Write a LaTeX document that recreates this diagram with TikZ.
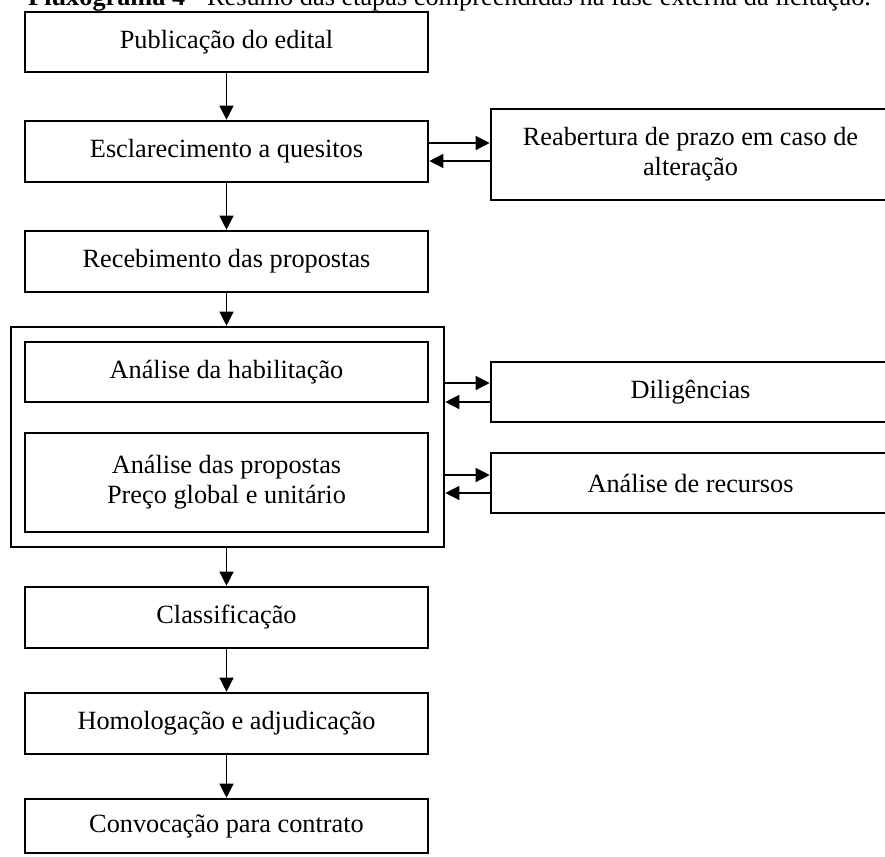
\documentclass[tikz,border=0pt]{standalone}
\usepackage{fontspec}
\setmainfont{Liberation Serif}
\usetikzlibrary{arrows.meta,calc}
\begin{document}
\begin{tikzpicture}[x=1pt,y=-1pt,
  boxtext/.style={font=\fontsize{26.3}{30}\selectfont},
  stepbox/.style={draw, line width=2.6pt, boxtext, align=center, inner sep=0pt},
  arr/.style={line width=1.3pt, -{Triangle[length=14pt,width=14pt]}}
]
\useasboundingbox (0,0) rectangle (885,856);
\clip (0,0) rectangle (885,856);

% title
\node[anchor=base west, inner sep=0pt, boxtext] (title) at (28,6)
  {\textbf{Fluxograma 4} - Resumo das etapas compreendidas na fase externa da licitação.};

% left column
\node[stepbox, minimum width=403pt, minimum height=60pt] (b1) at (226.5,42) {Publicação do edital};
\node[stepbox, minimum width=403pt, minimum height=61pt] (b2) at (226.5,151.5) {Esclarecimento a quesitos};
\node[stepbox, minimum width=403pt, minimum height=61pt] (b3) at (226.5,261.5) {Recebimento das propostas};
\node[draw, line width=2.6pt, minimum width=433pt, minimum height=220pt, inner sep=0pt] (outer) at (227.5,437) {};
\node[stepbox, minimum width=403pt, minimum height=60pt] (i1) at (226.5,372) {Análise da habilitação};
\node[stepbox, minimum width=403pt, minimum height=99pt] (i2) at (226.5,482.5) {Análise das propostas\\Preço global e unitário};
\node[stepbox, minimum width=403pt, minimum height=61pt] (b4) at (226.5,617.5) {Classificação};
\node[stepbox, minimum width=403pt, minimum height=61pt] (b5) at (226.5,723.5) {Homologação e adjudicação};
\node[stepbox, minimum width=403pt, minimum height=54pt] (b6) at (226.5,826) {Convocação para contrato};

% right column
\node[stepbox, minimum width=399pt, minimum height=91pt] (reab) at (690.5,154.5) {Reabertura de prazo em caso de\\alteração};
\node[stepbox, minimum width=399pt, minimum height=60pt] (dil) at (690.5,392) {Diligências};
\node[stepbox, minimum width=399pt, minimum height=60pt] (rec) at (690.5,483) {Análise de recursos};

% vertical arrows
\draw[arr] (b1.south) -- (b2.north);
\draw[arr] (b2.south) -- (b3.north);
\draw[arr] (b3.south) -- (b3.south |- outer.north);
\draw[arr] (b4.north |- outer.south) -- (b4.north);
\draw[arr] (b4.south) -- (b5.north);
\draw[arr] (b5.south) -- (b6.north);

% horizontal arrows
\coordinate (r1) at ($(b2.east)+(0,-8.5)$);
\coordinate (r2) at ($(b2.east)+(0,9.5)$);
\draw[arr] (r1) -- (r1 -| reab.west);
\draw[arr] (r2 -| reab.west) -- (r2);

\coordinate (d1) at ($(outer.east)+(0,-54)$);
\coordinate (d2) at ($(outer.east)+(0,-35)$);
\draw[arr] (d1) -- (d1 -| dil.west);
\draw[arr] (d2 -| dil.west) -- (d2);

\coordinate (a1) at ($(outer.east)+(0,38)$);
\coordinate (a2) at ($(outer.east)+(0,56)$);
\draw[arr] (a1) -- (a1 -| rec.west);
\draw[arr] (a2 -| rec.west) -- (a2);
\end{tikzpicture}
\end{document}
